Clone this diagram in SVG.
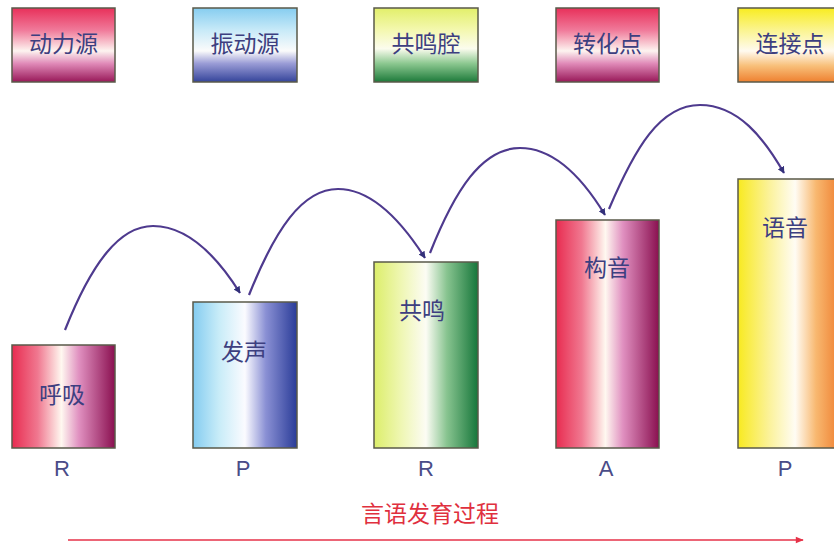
<svg xmlns="http://www.w3.org/2000/svg" width="834" height="546" viewBox="0 0 834 546">
<style>
.box{stroke:#5a5a4a;stroke-width:1.5}
.lbl{font-family:"Noto Sans CJK SC","Noto Sans",sans-serif;font-size:23px;fill:#3d3f80;text-anchor:middle}
.let{font-family:"Liberation Sans",Arial,sans-serif;font-size:22px;fill:#4a4c88;text-anchor:middle}
.arc{fill:none;stroke:#4e3a8e;stroke-width:2.2;marker-end:url(#ah)}
</style>
<defs>
<marker id="ah" viewBox="0 0 10 10" refX="9" refY="5" markerWidth="7" markerHeight="7" orient="auto" markerUnits="userSpaceOnUse">
<path d="M0,0 L10,5 L0,10 z" fill="#33307a"/>
</marker>
<marker id="rh" viewBox="0 0 10 10" refX="9" refY="5" markerWidth="12" markerHeight="8" orient="auto" markerUnits="userSpaceOnUse">
<path d="M0,1 L10,5 L0,9 z" fill="#e63248"/>
</marker>
<linearGradient id="vRed" x1="0" y1="0" x2="0" y2="1">
<stop offset="0" stop-color="#e8305a"/><stop offset="0.3" stop-color="#f07a9a"/><stop offset="0.58" stop-color="#fdf4f0"/><stop offset="0.75" stop-color="#e08ab8"/><stop offset="1" stop-color="#981858"/>
</linearGradient>
<linearGradient id="vBlue" x1="0" y1="0" x2="0" y2="1">
<stop offset="0" stop-color="#86cdf0"/><stop offset="0.3" stop-color="#c8eaf8"/><stop offset="0.58" stop-color="#fbfbfb"/><stop offset="0.75" stop-color="#9a9cd6"/><stop offset="1" stop-color="#34449a"/>
</linearGradient>
<linearGradient id="vGreen" x1="0" y1="0" x2="0" y2="1">
<stop offset="0" stop-color="#e2ef6a"/><stop offset="0.3" stop-color="#f4f8b0"/><stop offset="0.55" stop-color="#fbfcee"/><stop offset="0.75" stop-color="#8cc890"/><stop offset="1" stop-color="#1d7a3a"/>
</linearGradient>
<linearGradient id="vYel" x1="0" y1="0" x2="0" y2="1">
<stop offset="0" stop-color="#f8ec20"/><stop offset="0.3" stop-color="#fbf490"/><stop offset="0.58" stop-color="#fffaf0"/><stop offset="0.78" stop-color="#f8c07a"/><stop offset="1" stop-color="#ee8030"/>
</linearGradient>
<linearGradient id="hRed" x1="0" y1="0" x2="1" y2="0">
<stop offset="0" stop-color="#e82c50"/><stop offset="0.25" stop-color="#f07890"/><stop offset="0.48" stop-color="#fff8f0"/><stop offset="0.65" stop-color="#e090c0"/><stop offset="1" stop-color="#8a1050"/>
</linearGradient>
<linearGradient id="hBlue" x1="0" y1="0" x2="1" y2="0">
<stop offset="0" stop-color="#84ccf0"/><stop offset="0.25" stop-color="#c8ecf8"/><stop offset="0.5" stop-color="#fbfbff"/><stop offset="0.7" stop-color="#8a90d4"/><stop offset="1" stop-color="#2a3c98"/>
</linearGradient>
<linearGradient id="hGreen" x1="0" y1="0" x2="1" y2="0">
<stop offset="0" stop-color="#dcee6a"/><stop offset="0.25" stop-color="#eef6b0"/><stop offset="0.5" stop-color="#fcfcf4"/><stop offset="0.7" stop-color="#88c490"/><stop offset="1" stop-color="#16763a"/>
</linearGradient>
<linearGradient id="hYel" x1="0" y1="0" x2="1" y2="0">
<stop offset="0" stop-color="#f8ea20"/><stop offset="0.3" stop-color="#fbf29a"/><stop offset="0.55" stop-color="#fffcf4"/><stop offset="0.75" stop-color="#f8b870"/><stop offset="1" stop-color="#ee7a2a"/>
</linearGradient>
</defs>
<rect width="834" height="546" fill="#ffffff"/>

<g id="legend-dongliyuan"><rect class="box" x="12" y="8" width="103" height="74" fill="url(#vRed)"/><text class="lbl" x="63.5" y="52">动力源</text></g>
<g id="legend-zhendongyuan"><rect class="box" x="193" y="8" width="104" height="74" fill="url(#vBlue)"/><text class="lbl" x="245" y="52">振动源</text></g>
<g id="legend-gongmingqiang"><rect class="box" x="374" y="8" width="104" height="74" fill="url(#vGreen)"/><text class="lbl" x="426" y="52">共鸣腔</text></g>
<g id="legend-zhuanhuadian"><rect class="box" x="556" y="8" width="103" height="74" fill="url(#vRed)"/><text class="lbl" x="607.5" y="52">转化点</text></g>
<g id="legend-lianjiedian"><rect class="box" x="738" y="8" width="104" height="74" fill="url(#vYel)"/><text class="lbl" x="790" y="52">连接点</text></g>

<g id="bar-huxi"><rect class="box" x="12" y="345" width="103" height="103" fill="url(#hRed)"/><text class="lbl" x="62" y="403">呼吸</text><text class="let" x="62" y="476">R</text></g>
<g id="bar-fasheng"><rect class="box" x="193" y="302" width="104" height="146" fill="url(#hBlue)"/><text class="lbl" x="244" y="360">发声</text><text class="let" x="243" y="476">P</text></g>
<g id="bar-gongming"><rect class="box" x="374" y="262" width="104" height="186" fill="url(#hGreen)"/><text class="lbl" x="422" y="319">共鸣</text><text class="let" x="426" y="476">R</text></g>
<g id="bar-gouyin"><rect class="box" x="556" y="220" width="103" height="228" fill="url(#hRed)"/><text class="lbl" x="607" y="276">构音</text><text class="let" x="606" y="476">A</text></g>
<g id="bar-yuyin"><rect class="box" x="738" y="179" width="104" height="269" fill="url(#hYel)"/><text class="lbl" x="785" y="236">语音</text><text class="let" x="785" y="476">P</text></g>

<g id="connectors">
<path class="arc" d="M65,330 C92,262 120,226 153,226 C188,226 218,258 240,293"/>
<path class="arc" d="M249,295 C275,230 302,189 338,189 C372,189 402,222 425,258"/>
<path class="arc" d="M430,253 C455,190 482,148 520,148 C556,148 585,182 605,215"/>
<path class="arc" d="M609,209 C635,148 660,105 700,105 C738,105 764,138 784,173"/>
<line x1="68" y1="540" x2="803" y2="540" stroke="#e63248" stroke-width="1.6" marker-end="url(#rh)"/>
</g>
<text x="430" y="522" font-family="'Noto Sans CJK SC','Noto Sans',sans-serif" font-size="23" fill="#e0303e" text-anchor="middle">言语发育过程</text>
</svg>
